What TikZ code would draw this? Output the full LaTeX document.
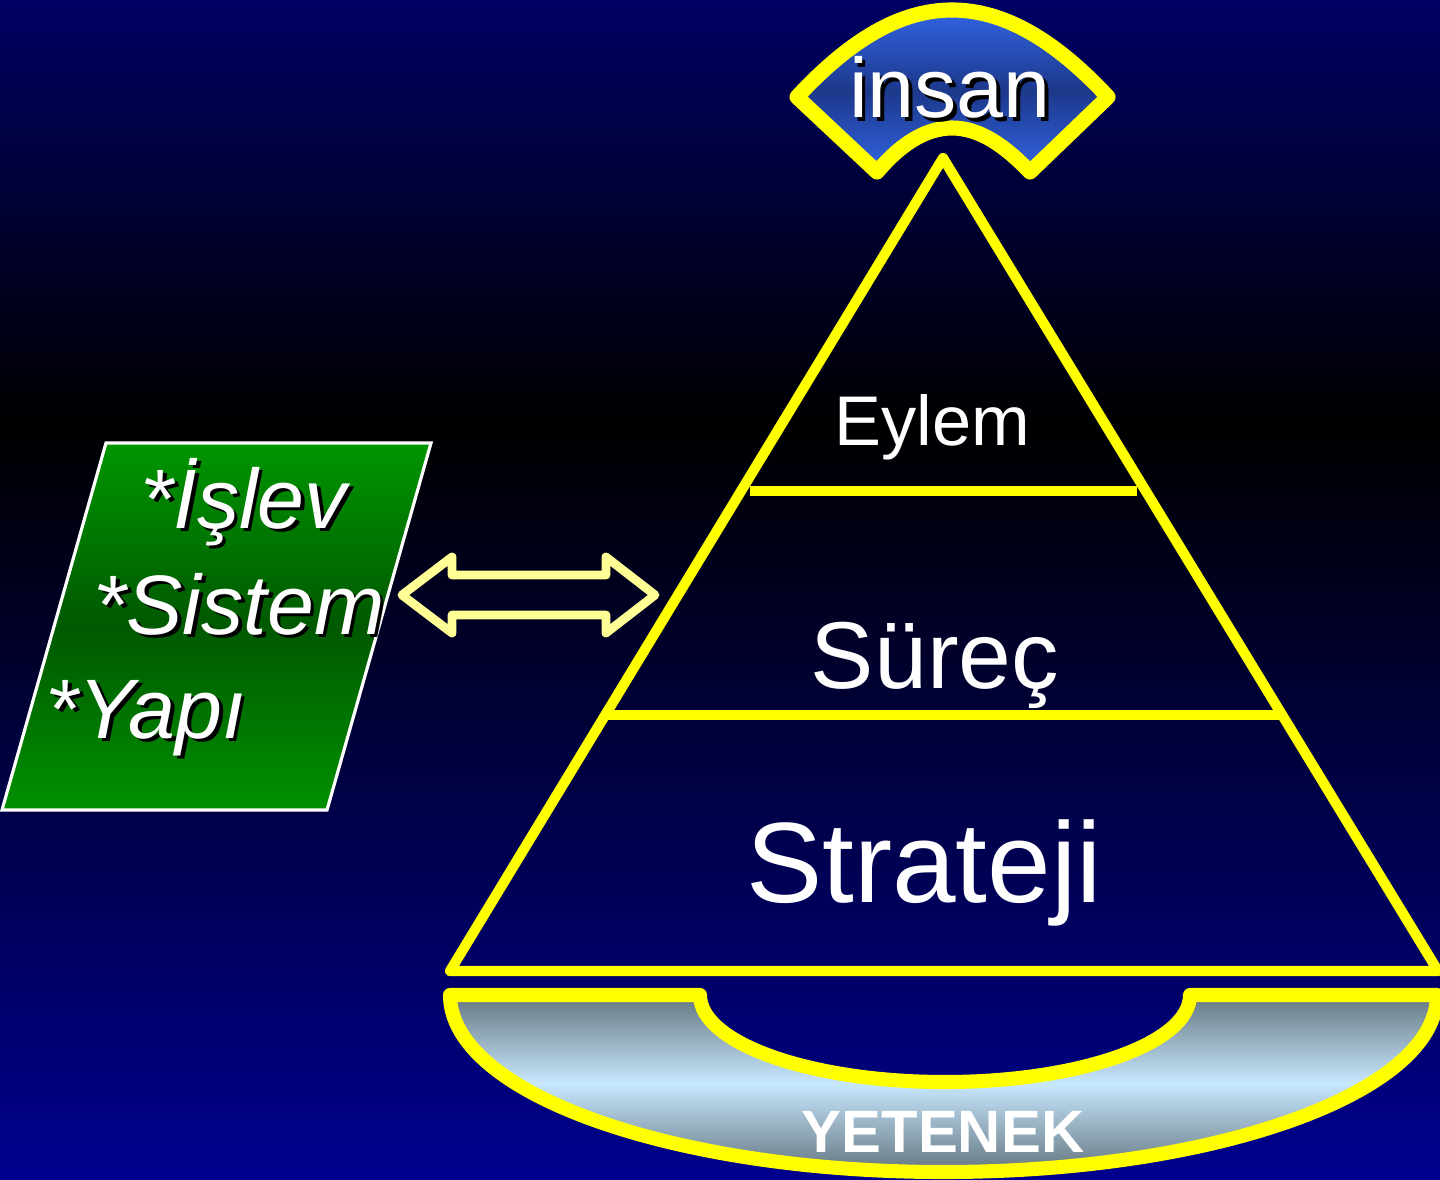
\documentclass[tikz,border=0pt]{standalone}
\usepackage{fontspec}
\setmainfont{Liberation Sans}

\definecolor{bgtop}{RGB}{0,0,100}
\definecolor{bgbot}{RGB}{0,0,142}
\definecolor{ylw}{RGB}{255,255,0}
\definecolor{paleylw}{RGB}{255,255,150}
\definecolor{fanlight}{RGB}{50,100,228}
\definecolor{fandark}{RGB}{28,56,138}
\definecolor{grntop}{RGB}{0,150,0}
\definecolor{grnmid}{RGB}{0,88,0}
\definecolor{grnbot}{RGB}{0,145,0}
\definecolor{basegrey}{RGB}{100,118,128}
\definecolor{baselight}{RGB}{200,232,255}

\pgfdeclareverticalshading{bgshade}{100bp}{color(0bp)=(bgbot); color(25bp)=(bgbot); color(57bp)=(black); color(75bp)=(bgtop); color(100bp)=(bgtop)}

\newcommand{\shadowed}[1]{\rlap{\hspace{1pt}\raisebox{-1pt}{\color{black}#1}}#1}

\tikzset{
    yline/.style={draw=ylw, line width=3pt, line join=round},
    fanline/.style={draw=ylw, line width=4.3pt, line join=round},
    tritext/.style={text=white, inner sep=0pt, anchor=base},
    boxtext/.style={text=white, inner sep=0pt, anchor=base west, font=\fontsize{24}{28}\selectfont\itshape},
}

\begin{document}
\begin{tikzpicture}[x=0.01cm, y=-0.01cm]

    % Background
    \useasboundingbox (0,0) rectangle (1440,1179);
    \shade[shading=bgshade] (0,0) rectangle (1440,1179);

    % Base (YETENEK)
    \draw[fanline, line width=4pt, top color=basegrey, bottom color=basegrey, middle color=baselight]
        (450,995) -- (700,995) arc[start angle=180, end angle=0, x radius=245, y radius=87]
        -- (1437,995) arc[start angle=0, end angle=180, x radius=493.5, y radius=177] -- cycle;
    \node[tritext, font=\fontsize{17}{20}\selectfont\bfseries] (yetenek) at (943,1152) {YETENEK};

    % Pyramid
    \coordinate (apex) at (943,158);
    \coordinate (bl) at (450,971);
    \coordinate (br) at (1438,971);
    \draw[yline, line width=2.9pt] (apex) -- (bl) -- (br) -- cycle;

    % Levels
    \coordinate (l1) at (750,491);
    \coordinate (r1) at (1137,491);
    \coordinate (l2) at (608,715);
    \coordinate (r2) at (1283,715);
    \draw[yline, line cap=butt] (l1) -- (r1);
    \draw[yline, line cap=butt] (l2) -- (r2);

    \node[tritext, font=\fontsize{20}{24}\selectfont] (eylem) at (932,445) {Eylem};
    \node[tritext, font=\fontsize{27}{32}\selectfont] (surec) at (935,688) {Süreç};
    \node[tritext, font=\fontsize{32.5}{38}\selectfont] (strateji) at (924,902) {Strateji};

    % Top (insan)
    \draw[fanline, top color=fanlight, bottom color=fanlight, middle color=fandark]
        (797,97) .. controls (850,40) and (900,10) .. (952,10)
        .. controls (1004,10) and (1055,40) .. (1108,97)
        -- (1030,172) .. controls (1005,146) and (980,128) .. (952,128)
        .. controls (924,128) and (899,146) .. (877,172) -- cycle;
    \node[tritext, font=\fontsize{24}{28}\selectfont] (insan) at (950,118) {\shadowed{insan}};

    % Double arrow
    \draw[draw=paleylw, line width=2.5pt, line join=round]
        (402,595) -- (452,557) -- (452,575) -- (606,575) -- (606,557) -- (655,595)
        -- (606,633) -- (606,615) -- (452,615) -- (452,633) -- cycle;

    % Green box
    \draw[draw=white, line width=0.9pt, top color=grntop, bottom color=grnbot, middle color=grnmid]
        (106,443) -- (431,443) -- (327,810) -- (2,810) -- cycle;
    \node[boxtext] (islev) at (140,528) {\shadowed{*İşlev}};
    \node[boxtext] (sistem) at (93,634) {\shadowed{*Sistem}};
    \node[boxtext] (yapi) at (45,738) {\shadowed{*Yapı}};

\end{tikzpicture}
\end{document}
